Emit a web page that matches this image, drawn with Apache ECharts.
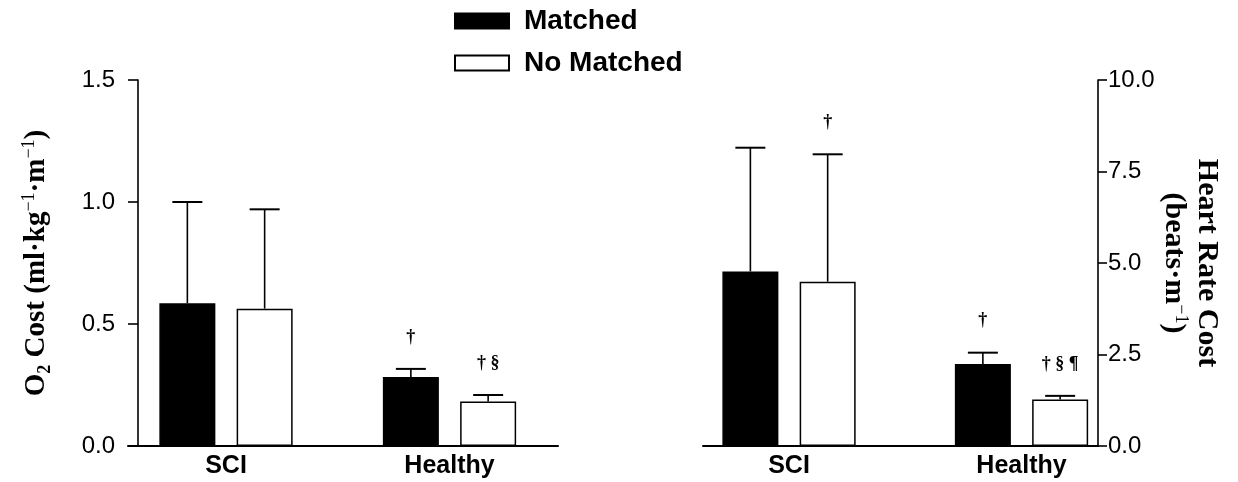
<!DOCTYPE html>
<html>
<head>
<meta charset="utf-8">
<script src="https://cdn.jsdelivr.net/npm/echarts@6/dist/echarts.min.js"></script>
<style>html,body{margin:0;padding:0;background:#fff}#c{width:1238px;height:482px}</style>
</head>
<body>
<div id="c"></div>
<script>
// ---- data ----
const categories = ['SCI', 'Healthy'];
const seriesNames = ['Matched', 'No Matched'];
// O2 cost (ml·kg-1·m-1)
const o2Matched = [0.585, 0.283];
const o2MatchedUpper = [1.0, 0.316];
const o2NoMatched = [0.563, 0.182];
const o2NoMatchedUpper = [0.970, 0.209];
const o2MatchedNotes = ['', '†'];
const o2NoMatchedNotes = ['', '† §'];
// Heart rate cost (beats·m-1)
const hrMatched = [4.77, 2.24];
const hrMatchedUpper = [8.15, 2.55];
const hrNoMatched = [4.49, 1.27];
const hrNoMatchedUpper = [7.97, 1.37];
const hrMatchedNotes = ['', '†'];
const hrNoMatchedNotes = ['†', '† § ¶'];
const o2Ticks = [0, 0.5, 1.0, 1.5];
const hrTicks = [0, 2.5, 5.0, 7.5, 10.0];

// ---- style ----
const BAR_W = 56;
const BAR_GAP = 0.38;
const OFF = BAR_W * (1 + BAR_GAP) / 2;
const SANS = '"Liberation Sans", Arial, sans-serif';
const SERIF = '"Liberation Serif", "Times New Roman", serif';

const chart = echarts.init(document.getElementById('c'), null, {renderer: 'canvas'});

function barData(vals) { return vals.map((v, i) => [i, v]); }
function errData(vals, up, notes) { return vals.map((v, i) => [i, v, up[i], notes[i]]); }

function errSeries(name, vals, up, notes, gi, sign) {
  return {
    type: 'custom', name: name + ' err', xAxisIndex: gi, yAxisIndex: gi,
    data: errData(vals, up, notes),
    encode: {x: 0, y: 2},
    silent: true, z: 5,
    renderItem: function (params, api) {
      const p0 = api.coord([api.value(0), api.value(1)]);
      const p1 = api.coord([api.value(0), api.value(2)]);
      const x = p0[0] + sign * OFF;
      const note = notes[params.dataIndex];
      const ch = [
        {type: 'line', shape: {x1: x, y1: p0[1], x2: x, y2: p1[1]}, style: {stroke: '#000', lineWidth: 1.6}},
        {type: 'line', shape: {x1: x - 15, y1: p1[1], x2: x + 15, y2: p1[1]}, style: {stroke: '#000', lineWidth: 2}}
      ];
      if (note) {
        ch.push({type: 'text', style: {text: note, x: x, y: p1[1] - 32, align: 'center', verticalAlign: 'middle',
          font: 'bold 18px ' + SERIF, fill: '#000'}});
      }
      return {type: 'group', children: ch};
    }
  };
}

function barSeries(name, vals, gi, filled) {
  return {
    type: 'bar', name: name, xAxisIndex: gi, yAxisIndex: gi,
    data: barData(vals), barWidth: BAR_W, barGap: (BAR_GAP * 100) + '%',
    itemStyle: filled ? {color: '#000', borderColor: '#000', borderWidth: 1.5}
                      : {color: '#fff', borderColor: '#000', borderWidth: 1.5},
    emphasis: {disabled: true}, z: 3
  };
}

const xLabel = {
  customValues: [0, 1],
  formatter: v => categories[Math.round(v)],
  fontFamily: SANS, fontWeight: 'bold', fontSize: 25, color: '#000', margin: 8
};

const option = {
  animation: false,
  backgroundColor: '#fff',
  legend: {
    data: seriesNames, orient: 'vertical', left: 454, top: 7,
    itemWidth: 54, itemHeight: 15, itemGap: 14, padding: 0,
    icon: 'rect', selectedMode: false,
    textStyle: {fontFamily: SANS, fontWeight: 'bold', fontSize: 28, color: '#000', padding: [0, 0, 0, 10]}
  },
  grid: [
    {left: 128, right: 1238 - 558, top: 80, bottom: 482 - 446},
    {left: 703, right: 1238 - 1098, top: 80, bottom: 482 - 446}
  ],
  xAxis: [
    {type: 'value', gridIndex: 0, min: (128 - 226) / 223.5, max: (558 - 226) / 223.5,
     splitLine: {show: false}, axisTick: {show: false},
     axisLine: {show: true, onZero: false, lineStyle: {color: '#000', width: 2}},
     axisLabel: xLabel},
    {type: 'value', gridIndex: 1, min: -0.37, max: 1.329,
     splitLine: {show: false}, axisTick: {show: false},
     axisLine: {show: true, onZero: false, lineStyle: {color: '#000', width: 2}},
     axisLabel: xLabel}
  ],
  yAxis: [
    {type: 'value', gridIndex: 0, min: o2Ticks[0], max: o2Ticks[o2Ticks.length - 1], interval: 0.5,
     offset: -10, position: 'left',
     splitLine: {show: false},
     axisLine: {show: true, onZero: false, lineStyle: {color: '#000', width: 1.6}},
     axisTick: {show: true, inside: false, length: 10, lineStyle: {color: '#000', width: 1.6}},
     axisLabel: {formatter: v => v.toFixed(1), fontFamily: SANS, fontSize: 24, color: '#000', margin: 23},
     name: '{t|O}{sub|2}{t| Cost (ml·kg}{sup|−1}{t|·m}{sup|−1}{t|)}',
     nameLocation: 'middle', nameRotate: 90, nameGap: 84,
     nameTextStyle: {
       rich: {
         t: {fontFamily: SERIF, fontWeight: 'bold', fontSize: 29, color: '#000', lineHeight: 34},
         sub: {fontFamily: SERIF, fontWeight: 'bold', fontSize: 18, color: '#000', verticalAlign: 'bottom', lineHeight: 26},
         sup: {fontFamily: SERIF, fontWeight: 'normal', fontSize: 18, color: '#000', verticalAlign: 'top', lineHeight: 18}
       }
     }},
    {type: 'value', gridIndex: 1, min: hrTicks[0], max: hrTicks[hrTicks.length - 1], interval: 2.5,
     position: 'right',
     splitLine: {show: false},
     axisLine: {show: true, onZero: false, lineStyle: {color: '#000', width: 1.6}},
     axisTick: {show: true, inside: false, length: 9, lineStyle: {color: '#000', width: 1.6}},
     axisLabel: {formatter: v => v.toFixed(1), fontFamily: SANS, fontSize: 24, color: '#000', margin: 10},
     name: '{t|Heart Rate Cost}\n{t|(beats·m}{sup|−1}{t|)}',
     nameLocation: 'middle', nameRotate: -90, nameGap: 56,
     nameTextStyle: {
       rich: {
         t: {fontFamily: SERIF, fontWeight: 'bold', fontSize: 30, color: '#000', lineHeight: 33},
         sup: {fontFamily: SERIF, fontWeight: 'normal', fontSize: 18, color: '#000', verticalAlign: 'top', lineHeight: 18}
       }
     }}
  ],
  series: [
    barSeries(seriesNames[0], o2Matched, 0, true),
    barSeries(seriesNames[1], o2NoMatched, 0, false),
    errSeries(seriesNames[0], o2Matched, o2MatchedUpper, o2MatchedNotes, 0, -1),
    errSeries(seriesNames[1], o2NoMatched, o2NoMatchedUpper, o2NoMatchedNotes, 0, 1),
    barSeries(seriesNames[0], hrMatched, 1, true),
    barSeries(seriesNames[1], hrNoMatched, 1, false),
    errSeries(seriesNames[0], hrMatched, hrMatchedUpper, hrMatchedNotes, 1, -1),
    errSeries(seriesNames[1], hrNoMatched, hrNoMatchedUpper, hrNoMatchedNotes, 1, 1)
  ]
};
chart.setOption(option);
</script>
</body>
</html>
